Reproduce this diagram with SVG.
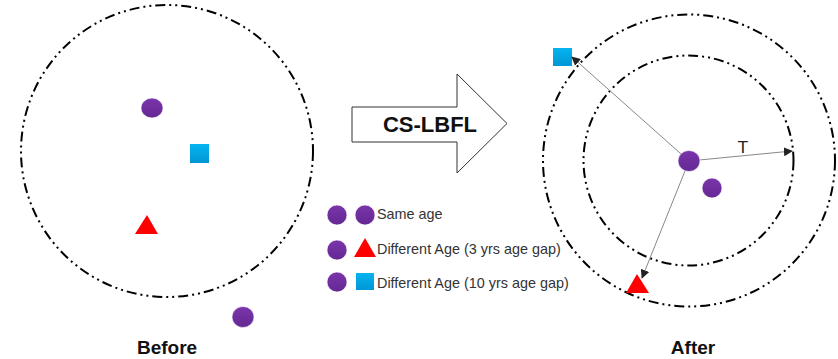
<svg xmlns="http://www.w3.org/2000/svg" width="838" height="359" viewBox="0 0 838 359">
  <defs>
    <linearGradient id="purpleFill" x1="0" y1="0" x2="0" y2="1">
      <stop offset="0" stop-color="#7A35AA"/>
      <stop offset="1" stop-color="#642893"/>
    </linearGradient>
    <linearGradient id="cyanFill" x1="0" y1="0" x2="0" y2="1">
      <stop offset="0" stop-color="#05B4EE"/>
      <stop offset="1" stop-color="#0096D6"/>
    </linearGradient>
    <marker id="tip" viewBox="0 0 10 10" refX="9" refY="5" markerWidth="9" markerHeight="9" markerUnits="userSpaceOnUse" orient="auto">
      <path d="M0,0 L10,5 L0,10 z" fill="#222"/>
    </marker>
  </defs>
  <style>
    .ring { fill: none; stroke: #000; stroke-width: 2; stroke-dasharray: 10 4 2 4 2 4; }
    .same { fill: url(#purpleFill); stroke: #fff; stroke-width: 0.6; }
    .tri { fill: #FF0000; }
    .sq { fill: url(#cyanFill); }
    .caption { font-family: "Liberation Sans", Arial, sans-serif; font-weight: bold; font-size: 19px; fill: #111; text-anchor: middle; }
    .legend { font-family: "Liberation Sans", Arial, sans-serif; font-size: 14.4px; fill: #333; }
    .link { fill: none; stroke: #888; stroke-width: 1; marker-end: url(#tip); }
  </style>

  <!-- Left panel: population before grouping -->
  <g id="before">
    <circle class="ring" cx="167" cy="151" r="146"/>
    <ellipse class="same" cx="152" cy="108" rx="11" ry="10"/>
    <rect class="sq" x="190" y="144" width="19" height="19"/>
    <polygon class="tri" points="147,215 135,234 158,234"/>
    <ellipse class="same" cx="243" cy="317" rx="11" ry="10.5"/>
    <text class="caption" x="167" y="354">Before</text>
  </g>

  <!-- Transformation arrow -->
  <g id="process">
    <polygon points="352,107 457,107 457,74 507,123.5 457,173 457,142 352,142" fill="#fff" stroke="#333" stroke-width="1"/>
    <text x="430" y="132" font-family="'Liberation Sans', Arial, sans-serif" font-weight="bold" font-size="22" fill="#111" text-anchor="middle">CS-LBFL</text>
  </g>

  <!-- Legend -->
  <g id="legend">
    <ellipse class="same" cx="337" cy="215" rx="10" ry="10"/>
    <ellipse class="same" cx="365" cy="215" rx="10" ry="10"/>
    <text class="legend" x="377" y="219">Same age</text>
    <ellipse class="same" cx="337" cy="250" rx="10" ry="10"/>
    <polygon class="tri" points="365,238 354,257 376,257"/>
    <text class="legend" x="377" y="254">Different Age (3 yrs age gap)</text>
    <ellipse class="same" cx="337" cy="282" rx="10" ry="10"/>
    <rect class="sq" x="356" y="273" width="18" height="17"/>
    <text class="legend" x="377" y="288">Different Age (10 yrs age gap)</text>
  </g>

  <!-- Right panel: population after grouping -->
  <g id="after">
    <circle class="ring" cx="689" cy="160.5" r="146"/>
    <circle class="ring" cx="688.5" cy="160.5" r="105"/>
    <text x="743" y="153" font-family="'DejaVu Sans', sans-serif" font-size="16" fill="#222" text-anchor="middle">T</text>
    <ellipse class="same" cx="712" cy="188" rx="10" ry="10"/>
    <rect class="sq" x="553" y="48" width="19" height="18"/>
    <polygon class="tri" points="637,274 626,293 649,293"/>
    <text class="caption" x="693" y="354">After</text>
  </g>

  <!-- Connectors from the reference member -->
  <g id="connectors">
    <line class="link" x1="689" y1="161" x2="572" y2="57"/>
    <line class="link" x1="689" y1="161" x2="792" y2="151"/>
    <line class="link" x1="689" y1="161" x2="642" y2="278"/>
  </g>

  <g id="anchor">
    <ellipse class="same" cx="689" cy="161" rx="11" ry="10.5"/>
  </g>
</svg>
